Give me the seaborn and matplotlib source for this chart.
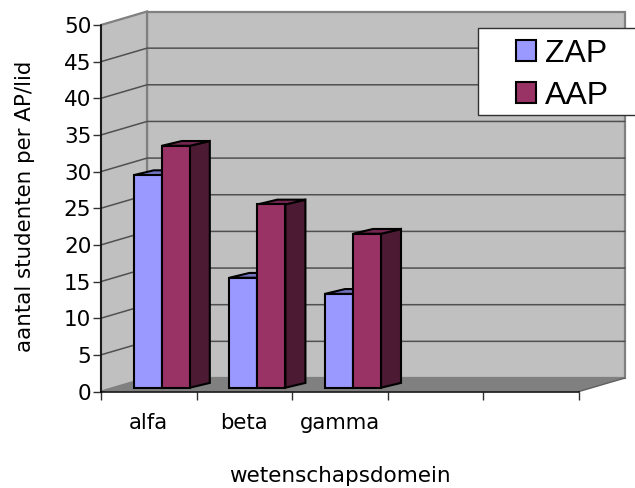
import numpy as np
import pandas as pd
import matplotlib
matplotlib.use("Agg")
import matplotlib.pyplot as plt
from matplotlib.patches import Polygon, Rectangle
import seaborn as sns

# --- data ---
domeinen = ["alfa", "beta", "gamma"]
zap = [29, 15, 12.8]
aap = [33, 25, 21]
y_ticks = list(range(0, 55, 5))

# --- looks ---
ZAP_COL = "#9999FF"
AAP_COL = "#993366"
ZAP_TOP = "#7373BF"
AAP_TOP = "#732650"
ZAP_SIDE = "#4D4D80"
AAP_SIDE = "#4D1A33"
WALL = "#C0C0C0"
FLOOR = "#808080"

sns.set_style("white")
plt.rcParams["font.family"] = "DejaVu Sans"
plt.rcParams["text.color"] = "black"
plt.rcParams["axes.labelcolor"] = "black"
plt.rcParams["xtick.labelcolor"] = "black"
plt.rcParams["ytick.labelcolor"] = "black"

W, H = 635, 488
fig = plt.figure(figsize=(W / 100, H / 100), dpi=100)
ax = fig.add_axes([101 / W, (H - 391.5) / H, 478 / W, 366.5 / H])
ax.patch.set_alpha(0)

df = pd.DataFrame({
    "domein": domeinen * 2,
    "waarde": zap + aap,
    "soort": ["ZAP"] * 3 + ["AAP"] * 3,
})
sns.barplot(data=df, x="domein", y="waarde", hue="soort", order=domeinen,
            hue_order=["ZAP", "AAP"], palette=[ZAP_COL, AAP_COL],
            width=0.586, gap=0, saturation=1, edgecolor="black", linewidth=1.5,
            ax=ax, zorder=5)

ax.set_xlim(-0.5, 4.5)
ax.set_ylim(0, 50)

# pixels -> data units
px_x = 5 / 478
px_y = 50 / 366.5
wall_dx, wall_dy = 46 * px_x, 13.5 * px_y
gap_dx, gap_dy = 13 * px_x, 3.8 * px_y
bar_dx, bar_dy = 20 * px_x, 4.8 * px_y

x0, x1 = -0.5, 4.5
# walls and floor
ax.add_patch(Polygon([(x0 + wall_dx, wall_dy), (x1 + wall_dx, wall_dy),
                      (x1 + wall_dx, 50 + wall_dy), (x0 + wall_dx, 50 + wall_dy)],
                     closed=True, fc=WALL, ec=FLOOR, lw=1.6, clip_on=False, zorder=1))
ax.add_patch(Polygon([(x0, 0), (x0 + wall_dx, wall_dy), (x0 + wall_dx, 50 + wall_dy), (x0, 50)],
                     closed=True, fc=WALL, ec=FLOOR, lw=1.6, clip_on=False, zorder=1))
ax.add_patch(Polygon([(x0, 0), (x1, 0), (x1 + wall_dx, wall_dy), (x0 + wall_dx, wall_dy)],
                     closed=True, fc=FLOOR, ec="none", clip_on=False, zorder=1.5))
ax.plot([x1, x1 + wall_dx], [0, wall_dy], color="#606060", lw=1, clip_on=False, zorder=1.6)

# gridlines on the walls
for v in y_ticks[1:-1]:
    ax.plot([x0, x0 + wall_dx, x1 + wall_dx], [v, v + wall_dy, v + wall_dy],
            color="#505050", lw=1.1, clip_on=False, zorder=2)

# 3D sides and tops of the bars, moved back off the front of the floor
for cont, top_col, side_col, z in zip(ax.containers, [ZAP_TOP, AAP_TOP], [ZAP_SIDE, AAP_SIDE], [5, 6]):
    for bar in cont:
        bar.set_x(bar.get_x() + gap_dx)
        bar.set_y(gap_dy)
        bar.set_clip_on(False)
        bar.set_zorder(z + 0.2)
        bar.set_joinstyle("miter")
        xl = bar.get_x()
        xr = xl + bar.get_width()
        yb = gap_dy
        yt = yb + bar.get_height()
        ax.add_patch(Polygon([(xr, yb), (xr + bar_dx, yb + bar_dy), (xr + bar_dx, yt + bar_dy), (xr, yt)],
                             closed=True, fc=side_col, ec="black", lw=1.5, clip_on=False, zorder=z))
        ax.add_patch(Polygon([(xl, yt), (xr, yt), (xr + bar_dx, yt + bar_dy), (xl + bar_dx, yt + bar_dy)],
                             closed=True, fc=top_col, ec="black", lw=1.5, clip_on=False, zorder=z))

# axes
sns.despine(ax=ax, top=True, right=True)
for s in ["left", "bottom"]:
    ax.spines[s].set_color("black")
    ax.spines[s].set_linewidth(1.1)
    ax.spines[s].set_zorder(3)

ax.set_yticks(y_ticks)
ax.tick_params(axis="y", left=True, length=6, width=1, labelsize=15.5, pad=1, color="#303030")
ax.set_xticks(range(3))
ax.set_xticklabels(domeinen)
ax.set_xticks(np.arange(-0.5, 5, 1), minor=True)
ax.tick_params(axis="x", which="major", bottom=False, labelsize=15.3, pad=12)
ax.tick_params(axis="x", which="minor", bottom=True, length=6, width=1, color="#303030")

ax.set_xlabel("wetenschapsdomein", fontsize=15.5)
ax.xaxis.set_label_coords((340 - 101) / 478, -(476 - 391.5) / 366.5, transform=ax.transAxes)
ax.xaxis.label.set_va("center")
ax.set_ylabel("aantal studenten per AP/lid", fontsize=15.4)
ax.yaxis.set_label_coords((25 - 101) / 478, (391.5 - 206) / 366.5, transform=ax.transAxes)
ax.yaxis.label.set_va("center")

# legend box runs off the right edge of the figure, so frame drawn by hand
fig.add_artist(Rectangle((478 / W, (H - 115) / H), 170 / W, 87 / H, transform=fig.transFigure,
                         fc="white", ec="#303030", lw=1, zorder=10))
handles, labels = ax.get_legend_handles_labels()
leg = ax.legend(handles, labels, loc="upper left", bbox_to_anchor=(516 / W, (H - 39) / H),
                bbox_transform=fig.transFigure, frameon=False,
                prop={"family": "Liberation Sans", "size": 23},
                borderpad=0, borderaxespad=0, handlelength=0.62, handleheight=0.62,
                handletextpad=0.28, labelspacing=0.36)
leg.set_zorder(20)
for t in leg.get_texts():
    t.set_color("black")
fig.add_artist(leg)

fig.savefig("out.png", dpi=100)
